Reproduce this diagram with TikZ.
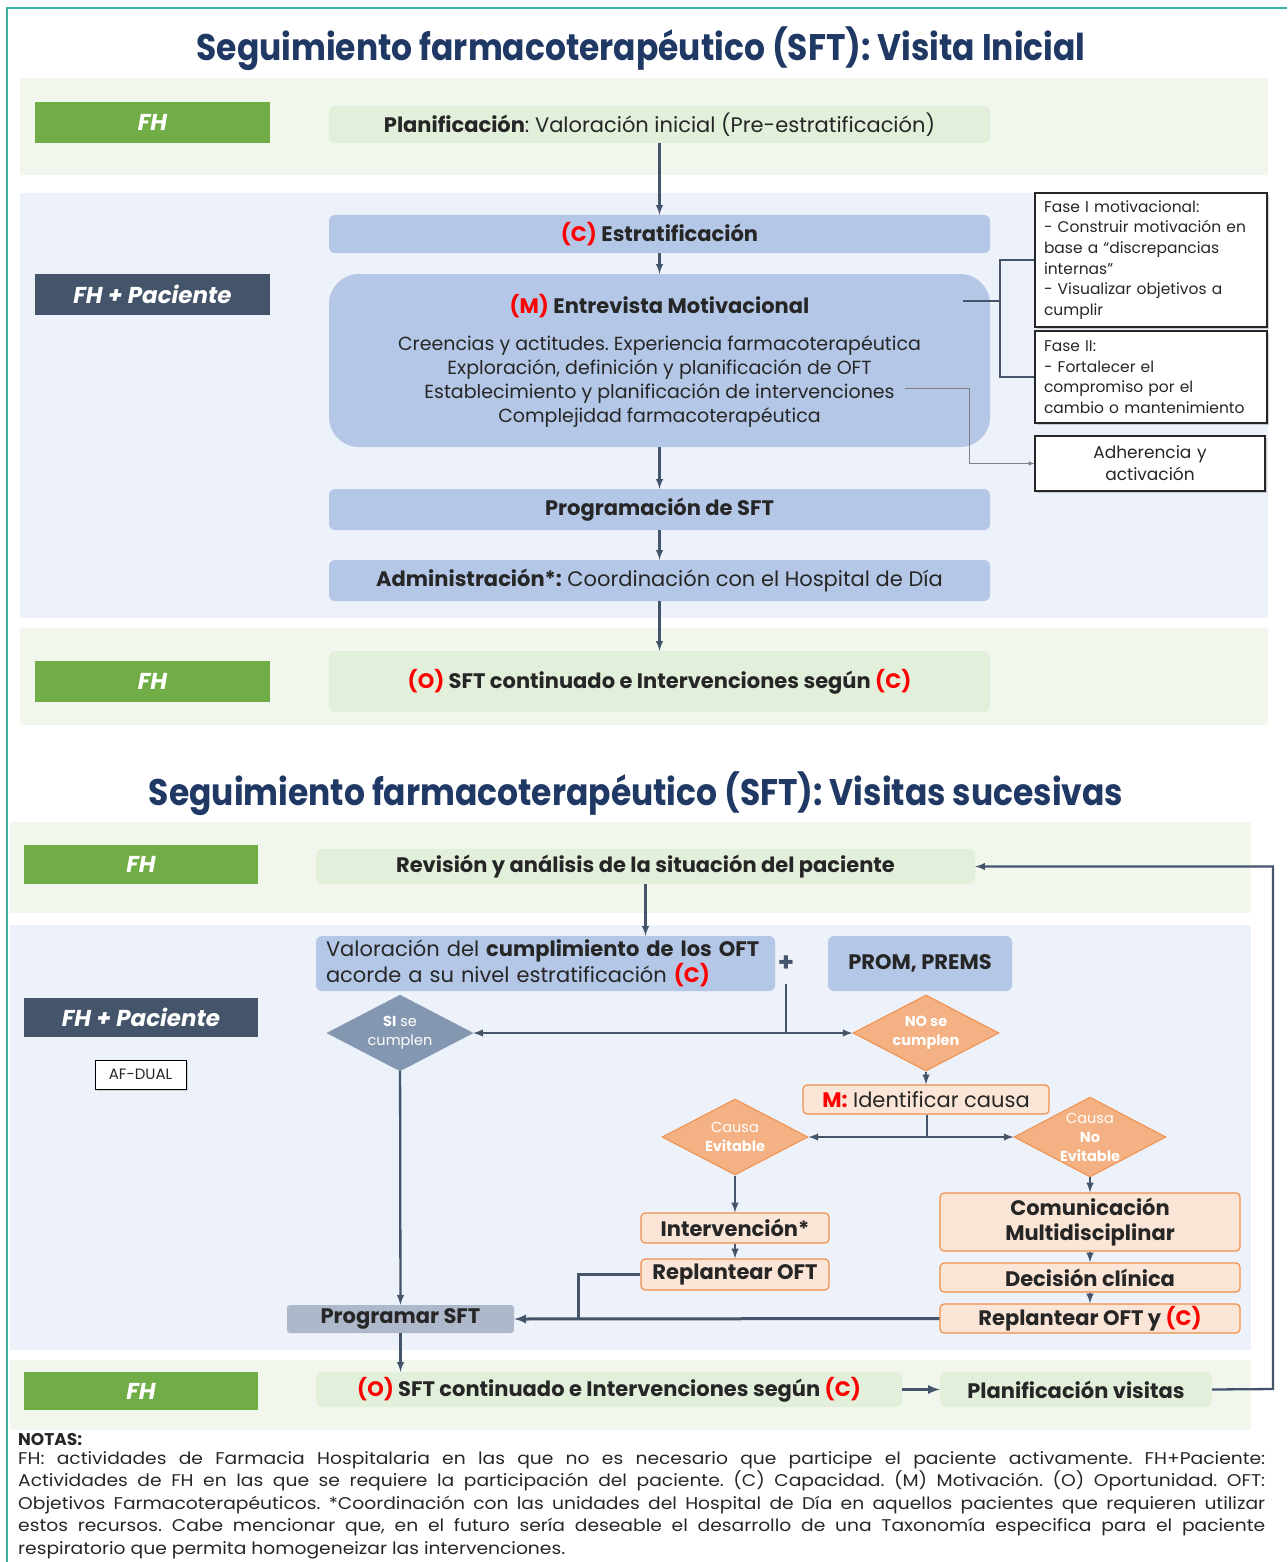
\documentclass[tikz,border=0pt]{standalone}
\usepackage{fontspec}
\setmainfont{Poppins}
\newfontfamily\titlefont{Poppins}[FakeStretch=0.89]
\newfontfamily\notefont{Poppins}[FakeStretch=1.1]
\usetikzlibrary{shapes.geometric,positioning,shadows}
\frenchspacing

\definecolor{frameteal}{HTML}{3AB09E}
\definecolor{lanegreen}{HTML}{F2F7EE}
\definecolor{laneblue}{HTML}{EDF1F9}
\definecolor{fhgreen}{HTML}{70AD47}
\definecolor{fhdark}{HTML}{44546A}
\definecolor{boxgreen}{HTML}{E2EFDA}
\definecolor{boxblue}{HTML}{B4C7E7}
\definecolor{boxgrey}{HTML}{ADB9CA}
\definecolor{sigrey}{HTML}{8497B0}
\definecolor{orangefill}{HTML}{FBE5D6}
\definecolor{orangedia}{HTML}{F4B183}
\definecolor{orangeline}{HTML}{F0904A}
\definecolor{titleblue}{HTML}{1F3864}
\definecolor{textdark}{HTML}{262626}
\definecolor{linkcol}{HTML}{44546A}

\tikzstyle{fhtag} = [fill=fhgreen, text=white, inner sep=0pt,
    minimum width=235pt, minimum height=41pt,
    font=\fontsize{23}{25}\selectfont\bfseries\itshape]
\tikzstyle{duotag} = [fhtag, fill=fhdark]
\tikzstyle{greenbox} = [fill=boxgreen, rounded corners=6pt, inner sep=0pt,
    font=\fontsize{21}{25}\selectfont]
\tikzstyle{bluebox} = [fill=boxblue, rounded corners=6pt, inner sep=0pt,
    font=\fontsize{21}{25}\selectfont]
\tikzstyle{notebox} = [draw=black!85, fill=white, line width=1.2pt, inner sep=0pt,
    drop shadow={opacity=0.35, shadow xshift=2pt, shadow yshift=-2pt},
    font=\fontsize{15.5}{20.6}\selectfont]
\tikzstyle{orangebox} = [draw=orangeline, fill=orangefill, line width=1.2pt,
    rounded corners=4pt, inner sep=0pt, font=\fontsize{21}{25}\selectfont]
\tikzstyle{decision} = [diamond, aspect=1.9, inner sep=0pt, text=white,
    minimum width=146pt, minimum height=76pt, align=center,
    font=\fontsize{14.5}{19}\selectfont]
\tikzstyle{link} = [draw=linkcol, line width=2.3pt, ->]

\newcommand{\redtxt}[1]{\textcolor{red}{#1}}

\begin{document}
\begin{tikzpicture}[x=1pt, y=-1pt, >=latex, text=textdark]
    \useasboundingbox (0,0) rectangle (1287,1562);
    % frame
    \draw [frameteal, line width=2.5pt] (7,1562) -- (7,8) -- (1287,8);

    % --- Visita inicial ---
    \node [text=titleblue, font=\titlefont\fontsize{37}{40}\selectfont\bfseries] (title1) at (641,49)
        {Seguimiento farmacoterapéutico (SFT): Visita Inicial};
    \fill [lanegreen] (20,78) rectangle (1268,175);
    \fill [laneblue] (20,193) rectangle (1268,618);
    \fill [lanegreen] (20,628) rectangle (1268,725);

    \node [fhtag] (fh1) at (152.5,122.5) {FH};
    \node [duotag] (fhp1) at (152.5,294.5) {FH + Paciente};
    \node [fhtag] (fh2) at (152.5,681.5) {FH};

    \node [greenbox, minimum width=661pt, minimum height=37pt] (plan) at (659.5,124.5)
        {\textbf{Planificación}: Valoración inicial (Pre-estratificación)};
    \node [bluebox, minimum width=661pt, minimum height=38pt] (estrat) at (659.5,234)
        {\textbf{\redtxt{(C)} Estratificación}};
    \node [bluebox, rounded corners=30pt, minimum width=661pt, minimum height=173pt,
        align=center, font=\fontsize{19}{24}\selectfont] (entrev) at (659.5,360.5)
        {{\fontsize{21}{24}\selectfont\bfseries \redtxt{(M)} Entrevista Motivacional}\\[13pt]
         Creencias y actitudes. Experiencia farmacoterapéutica\\
         Exploración, definición y planificación de OFT\\
         Establecimiento y planificación de intervenciones\\
         Complejidad farmacoterapéutica};
    \node [bluebox, minimum width=661pt, minimum height=41pt] (progr) at (659.5,509.5)
        {\textbf{Programación de SFT}};
    \node [bluebox, minimum width=661pt, minimum height=41pt] (admin) at (659.5,580.5)
        {\textbf{Administración*:} Coordinación con el Hospital de Día};
    \node [greenbox, minimum width=661pt, minimum height=61pt] (sftc1) at (659.5,681.5)
        {\textbf{\redtxt{(O)} SFT continuado e Intervenciones según \redtxt{(C)}}};

    \node [notebox, minimum width=232pt, minimum height=134pt, text width=214pt,
        align=left] (fase1) at (1151,260)
        {Fase I motivacional:\\- Construir motivación en\\base a “discrepancias\\internas”\\- Visualizar objetivos a\\cumplir};
    \node [notebox, minimum width=232pt, minimum height=92pt, text width=214pt,
        align=left] (fase2) at (1151,377)
        {Fase II:\\- Fortalecer el\\compromiso por el\\cambio o mantenimiento};
    \node [notebox, minimum width=230pt, minimum height=55pt, text width=210pt,
        align=center, font=\fontsize{17}{22}\selectfont] (adher) at (1150,463.5)
        {Adherencia y\\activación};

    \draw [link] (plan) -- (estrat);
    \draw [link] (estrat) -- (entrev);
    \draw [link] (entrev) -- (progr);
    \draw [link] (progr) -- (admin);
    \draw [link] (admin) -- (sftc1);
    \coordinate (brk) at (1000,301);
    \draw [linkcol, line width=1.6pt] (963,301) -- (brk);
    \draw [linkcol, line width=1.6pt] (fase1.west) -| (brk) |- (fase2.west);
    \coordinate (adj) at (969,388);
    \draw [gray, line width=1pt, -latex] (905,388) -- (adj) |- (adher.west);

    % --- Visitas sucesivas ---
    \node [text=titleblue, font=\titlefont\fontsize{37}{40}\selectfont\bfseries] (title2) at (636,794)
        {Seguimiento farmacoterapéutico (SFT): Visitas sucesivas};
    \fill [lanegreen] (10,822) rectangle (1251,913);
    \fill [laneblue] (10,925) rectangle (1251,1350);
    \fill [lanegreen] (10,1360) rectangle (1251,1430);

    \node [fhtag, minimum width=234pt, minimum height=39pt] (fh3) at (141,864.5) {FH};
    \node [duotag, minimum width=234pt, minimum height=39pt] (fhp2) at (141,1017.5) {FH + Paciente};
    \node [draw=black, fill=white, line width=1pt, minimum width=91pt, minimum height=29pt,
        inner sep=0pt, font=\fontsize{15}{17}\selectfont,
        drop shadow={opacity=0.3, shadow xshift=1.5pt, shadow yshift=-1.5pt}] (afdual) at (140.5,1074.5) {AF-DUAL};
    \node [fhtag, minimum width=234pt, minimum height=38pt] (fh4) at (141,1391) {FH};

    \node [greenbox, minimum width=659pt, minimum height=35pt] (revis) at (645.5,866.5)
        {\textbf{Revisión y análisis de la situación del paciente}};
    \node [bluebox, minimum width=459pt, minimum height=55pt, text width=439pt,
        align=left, font=\fontsize{21}{26}\selectfont] (valor) at (545.5,963.5)
        {Valoración del \textbf{cumplimiento de los OFT}\\acorde a su nivel estratificación \textbf{\redtxt{(C)}}};
    \node [text=linkcol, font=\fontsize{26}{26}\selectfont\bfseries, inner sep=0pt] (plus) at (786,964) {+};
    \node [bluebox, minimum width=184pt, minimum height=55pt] (prom) at (920,963.5)
        {\textbf{PROM, PREMS}};

    \node [decision, fill=sigrey, draw=sigrey] (si) at (400,1033) {\textbf{SI} se\\cumplen};
    \node [decision, fill=orangedia, draw=orangeline, line width=1pt] (no) at (926,1033)
        {\textbf{NO se}\\\textbf{cumplen}};
    \node [orangebox, minimum width=246pt, minimum height=29pt] (ident) at (926,1099.5)
        {\textbf{\redtxt{M:}} Identificar causa};
    \node [decision, fill=orangedia, draw=orangeline, line width=1pt] (cevit) at (735,1137)
        {Causa\\\textbf{Evitable}};
    \node [decision, fill=orangedia, draw=orangeline, line width=1pt] (cnoevit) at (1090,1137)
        {Causa\\\textbf{No}\\\textbf{Evitable}};
    \node [orangebox, minimum width=188pt, minimum height=30pt] (interv) at (735,1228)
        {\textbf{Intervención*}};
    \node [orangebox, minimum width=188pt, minimum height=31pt] (replA) at (735,1274.5)
        {\textbf{Replantear OFT}};
    \node [orangebox, minimum width=300pt, minimum height=58pt, align=center] (comun) at (1090,1222)
        {\textbf{Comunicación}\\\textbf{Multidisciplinar}};
    \node [orangebox, minimum width=300pt, minimum height=29pt] (decis) at (1090,1277.5)
        {\textbf{Decisión clínica}};
    \node [orangebox, minimum width=300pt, minimum height=29pt] (replB) at (1090,1318.5)
        {\textbf{Replantear OFT y \redtxt{(C)}}};
    \node [fill=boxgrey, rounded corners=3pt, minimum width=227pt, minimum height=28pt,
        inner sep=0pt, font=\fontsize{21}{25}\selectfont] (progsft) at (400.5,1319)
        {\textbf{Programar SFT}};
    \node [greenbox, minimum width=586pt, minimum height=35pt] (sftc2) at (609,1389.5)
        {\textbf{\redtxt{(O)} SFT continuado e Intervenciones según \redtxt{(C)}}};
    \node [greenbox, minimum width=272pt, minimum height=35pt] (planv) at (1076,1389.5)
        {\textbf{Planificación visitas}};

    % connectors
    \draw [link] (revis) -- (revis |- valor.north);
    \coordinate (jn) at (786,1033);
    \draw [linkcol, line width=2.3pt] (plus.south) ++(0,12) -- (jn);
    \draw [link] (jn) -- (si.east);
    \draw [link] (jn) -- (no.west);
    \draw [link] (no) -- (ident);
    \coordinate (jc) at (927,1137);
    \draw [linkcol, line width=2.3pt] (ident.south -| jc) -- (jc);
    \draw [link] (jc) -- (cevit.east);
    \draw [link] (jc) -- (cnoevit.west);
    \draw [link] (cevit) -- (interv);
    \draw [link] (interv) -- (replA);
    \draw [link] (cnoevit) -- (comun);
    \draw [link] (comun) -- (decis);
    \draw [link] (decis) -- (replB);
    \draw [link] (si) -- (progsft);
    \coordinate (jr) at (578,1319);
    \draw [linkcol, line width=3pt] (replA.west) -| (jr);
    \draw [link, line width=3pt] (replB.west) -- (progsft.east);
    \draw [link] (progsft) -- (progsft |- sftc2.north);
    \draw [link, line width=3pt] (sftc2) -- (planv);
    \coordinate (loop) at (1273,1389);
    \draw [link] (planv.east) -- (loop) |- (revis.east);

    % notes
    \node [anchor=base west, inner sep=0pt, font=\fontsize{17}{20}\selectfont\bfseries] (notas) at (18,1445) {NOTAS:};
    \node [anchor=north west, inner sep=0pt, text width=1247pt, align=justify,
        font=\notefont\fontsize{17}{22.6}\selectfont] (notes) at (18,1451)
        {FH: actividades de Farmacia Hospitalaria en las que no es necesario que participe el paciente activamente. FH+Paciente:\linebreak
         Actividades de FH en las que se requiere la participación del paciente. (C) Capacidad. (M) Motivación. (O) Oportunidad. OFT:\linebreak
         Objetivos Farmacoterapéuticos. *Coordinación con las unidades del Hospital de Día en aquellos pacientes que requieren utilizar\linebreak
         estos recursos. Cabe mencionar que, en el futuro sería deseable el desarrollo de una Taxonomía especifica para el paciente\linebreak
         respiratorio que permita homogeneizar las intervenciones.};
\end{tikzpicture}
\end{document}
